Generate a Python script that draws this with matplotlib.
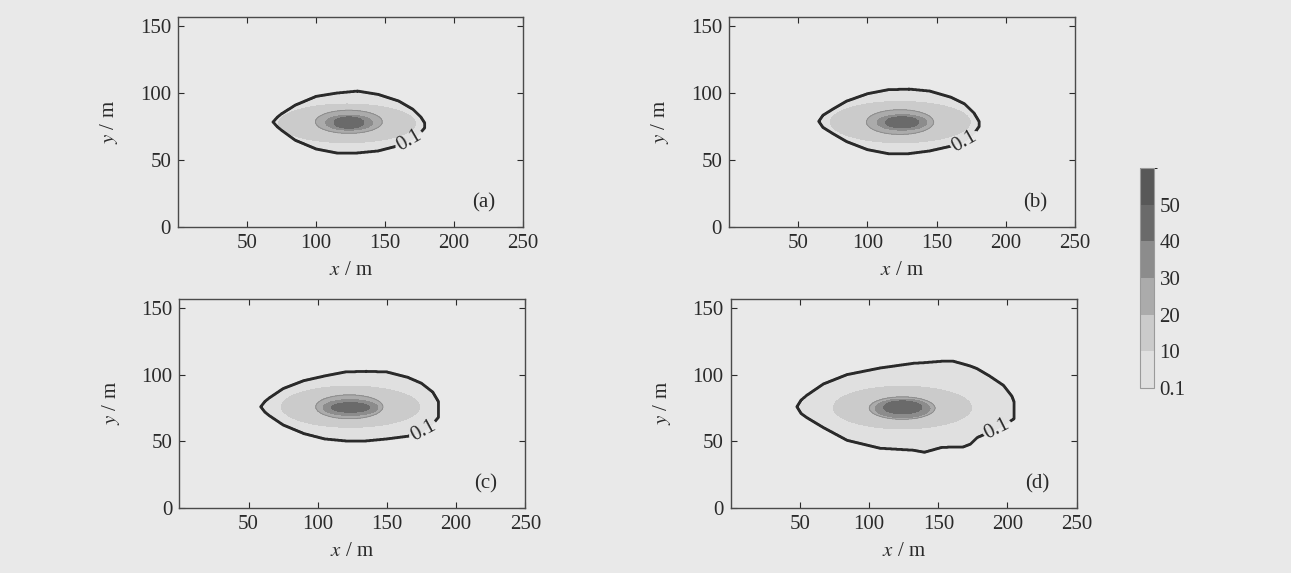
import numpy as np
import matplotlib.pyplot as plt
from matplotlib.colors import ListedColormap, BoundaryNorm

plt.rcParams['font.family'] = ['Liberation Serif', 'DejaVu Serif']
plt.rcParams['mathtext.fontset'] = 'stix'

# contour levels and grey shades
levels = [0.1, 10, 20, 30, 40, 50, 60]
cbar_ticks = [0.1, 10, 20, 30, 40, 50]
cbar_labels = ['0.1', '10', '20', '30', '40', '50']
shades = ['#e0e0e0', '#cbcbcb', '#ababab', '#8c8c8c', '#6a6a6a', '#585858']
panel_names = ['(a)', '(b)', '(c)', '(d)']

# 0.1 contour: x stations, upper and lower edge (m)
outline_x = [
    [69, 72, 75, 85, 100, 115, 130, 145, 160, 170, 176, 178.5],
    [65, 68, 75, 85, 100, 115, 130, 145, 160, 170, 177, 180.5],
    [59, 62, 65, 75, 90, 105, 120, 135, 150, 165, 175, 183, 187],
    [48, 51, 55, 67, 84, 108, 132, 140, 152, 161, 168, 173, 178, 187, 197, 203, 204.5],
]
outline_top = [
    [78.5, 82, 84.5, 91, 97.5, 100, 101.5, 99, 94, 88, 82, 78],
    [79, 83.5, 88, 94, 99.5, 102.5, 103, 101.5, 97, 92, 85, 79],
    [76, 80, 82.5, 89.5, 95.5, 99, 102, 102.5, 102, 98, 93.5, 87, 80],
    [76, 81, 84.5, 93, 100, 105, 108.5, 109, 110, 110, 108, 106.5, 104.5, 99, 92, 84, 80],
]
outline_bot = [
    [78.5, 75, 72.5, 65, 58.5, 55.5, 55.5, 57, 61, 66, 71, 74],
    [79, 74.5, 70, 64, 58, 55, 55, 57, 60.5, 64, 70, 75],
    [76, 72, 69.5, 62.5, 56, 52, 50.5, 50.5, 52, 54, 57, 63, 68],
    [76, 71, 68, 60.5, 51, 45, 43.5, 42, 45.5, 46, 46, 48, 53, 57, 62, 66, 67],
]

# inner contours 10, 20, 30, 40: x left/right, y bottom/top (m)
inner_x0 = [[73, 99.6, 107, 113], [73.3, 99.3, 107, 113], [73.8, 98.6, 103.8, 109.9], [74.2, 100.2, 104.3, 110.3]]
inner_x1 = [[172, 148, 141, 134.7], [174.3, 147.8, 143, 137], [173.6, 147.1, 143.5, 137.5], [174.1, 147.6, 144, 138]]
inner_y0 = [[63, 70, 72.4, 73.8], [63, 69.2, 72.4, 74.1], [60.5, 67, 69.4, 71.8], [59.4, 66.6, 67.8, 70.7]]
inner_y1 = [[92, 87.3, 83.6, 82.3], [93.9, 87.7, 84, 82.4], [91.4, 84.9, 81.3, 79], [91.3, 83.4, 81.7, 80.3]]
band_value = [15, 25, 35, 45]

label_pos = [(168, 64), (171, 63), (176, 58), (193, 59)]

x = np.arange(0, 250.01, 0.25)
y = np.arange(0, 157.01, 0.25)
X, Y = np.meshgrid(x, y)

cmap = ListedColormap(shades)
norm = BoundaryNorm(levels, cmap.N)

fig = plt.figure(figsize=(12.91, 5.73), dpi=100)
bg = '#e9e9e9'
txt = '#2a2a2a'
fig.patch.set_facecolor(bg)

boxes = [
    [0.1379, 0.6038, 0.2672, 0.3665],
    [0.5647, 0.6038, 0.2680, 0.3665],
    [0.1389, 0.1134, 0.2680, 0.3650],
    [0.5660, 0.1134, 0.2680, 0.3650],
]

for i in range(4):
    ax = fig.add_axes(boxes[i])
    ax.set_facecolor(bg)
    top = np.interp(X, outline_x[i], outline_top[i])
    bot = np.interp(X, outline_x[i], outline_bot[i])
    inside = (X >= outline_x[i][0]) & (X <= outline_x[i][-1]) & (Y <= top) & (Y >= bot)
    Z = np.where(inside, 5.0, 0.0)
    for k in range(4):
        cx = 0.5 * (inner_x0[i][k] + inner_x1[i][k])
        cy = 0.5 * (inner_y0[i][k] + inner_y1[i][k])
        a = 0.5 * (inner_x1[i][k] - inner_x0[i][k])
        b = 0.5 * (inner_y1[i][k] - inner_y0[i][k])
        ell = ((X - cx) / a) ** 2 + ((Y - cy) / b) ** 2 <= 1
        Z = np.where(ell & inside, band_value[k], Z)

    cf = ax.contourf(X, Y, Z, levels=levels, cmap=cmap, norm=norm)
    ax.contour(X, Y, Z, levels=[20], colors='#8a8a8a', linewidths=0.6)
    cs = ax.contour(X, Y, Z, levels=[0.1], colors='#2a2a2a', linewidths=2.0)
    ax.clabel(cs, fmt={0.1: '0.1'}, fontsize=15, colors='#2a2a2a',
              manual=[label_pos[i]], inline=True, inline_spacing=3)

    ax.set_xlim(0, 250)
    ax.set_ylim(0, 157)
    ax.set_xticks([50, 100, 150, 200, 250])
    ax.set_yticks([0, 50, 100, 150])
    ax.tick_params(direction='in', top=True, right=True, length=4,
                   labelsize=15, colors=txt, pad=5)
    for s in ax.spines.values():
        s.set_color('#4a4a4a')
        s.set_linewidth(1.0)
    ax.set_xlabel(r'$x$ / m', fontsize=15, color=txt, labelpad=6)
    ax.set_ylabel(r'$y$ / m', fontsize=15, color=txt, labelpad=14)
    ax.text(0.885, 0.115, panel_names[i], transform=ax.transAxes,
            fontsize=15, color=txt, ha='center', va='center')

cax = fig.add_axes([0.8830, 0.3229, 0.0108, 0.3840])
cb = fig.colorbar(cf, cax=cax, ticks=cbar_ticks, spacing='uniform')
cb.ax.set_yticklabels(cbar_labels)
cb.ax.tick_params(length=0, labelsize=15, colors=txt, pad=4)
cb.outline.set_edgecolor('#9a9a9a')
cb.outline.set_linewidth(0.8)

plt.savefig('out.png', dpi=100, facecolor=bg)
